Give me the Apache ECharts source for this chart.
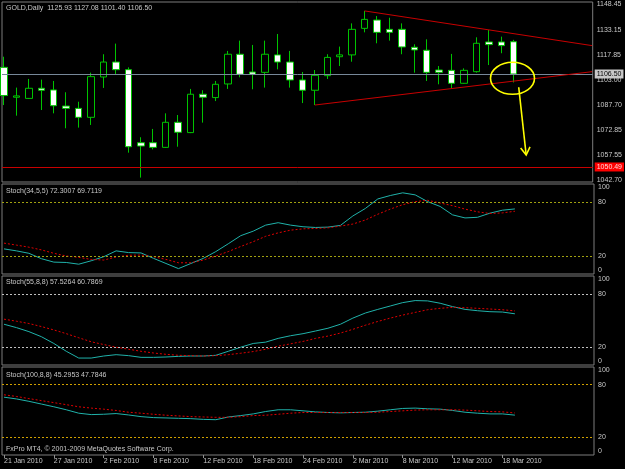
<!DOCTYPE html>
<html>
<head>
<meta charset="utf-8">
<title>GOLD,Daily</title>
<script src="https://cdn.jsdelivr.net/npm/echarts@6/dist/echarts.min.js"></script>
<style>
  html, body { margin: 0; padding: 0; background: #000; }
  #chart { width: 625px; height: 469px; }
</style>
</head>
<body>
<div id="chart"></div>
<script>
// daily bars, 21 Jan .. 19 Mar 2010
const dates = [
  "21 Jan 2010", "22 Jan 2010", "25 Jan 2010", "26 Jan 2010", "27 Jan 2010", "28 Jan 2010", "29 Jan 2010",
  "1 Feb 2010", "2 Feb 2010", "3 Feb 2010", "4 Feb 2010", "5 Feb 2010",
  "8 Feb 2010", "9 Feb 2010", "10 Feb 2010", "11 Feb 2010", "12 Feb 2010",
  "15 Feb 2010", "16 Feb 2010", "17 Feb 2010", "18 Feb 2010", "19 Feb 2010",
  "22 Feb 2010", "23 Feb 2010", "24 Feb 2010", "25 Feb 2010", "26 Feb 2010",
  "1 Mar 2010", "2 Mar 2010", "3 Mar 2010", "4 Mar 2010", "5 Mar 2010",
  "8 Mar 2010", "9 Mar 2010", "10 Mar 2010", "11 Mar 2010", "12 Mar 2010",
  "15 Mar 2010", "16 Mar 2010", "17 Mar 2010", "18 Mar 2010", "19 Mar 2010",
];

const opens = [
  1110.5, 1092.5, 1091.8, 1097.9, 1096.9, 1087.2, 1085.8,
  1080.4, 1104.7, 1113.7, 1109.1, 1065.1,
  1065.1, 1062.3, 1077.4, 1071.2, 1094.3,
  1092.3, 1100.5, 1118.4, 1107.7, 1107.5,
  1118.0, 1113.7, 1102.9, 1096.7, 1105.5,
  1116.9, 1118.0, 1134.0, 1139.0, 1133.4,
  1133.4, 1122.6, 1120.8, 1108.9, 1108.7,
  1100.9, 1107.9, 1125.8, 1125.8, 1125.93,
];
const highs = [
  1116.9, 1098.3, 1103.5, 1103.1, 1102.3, 1095.5, 1089.8,
  1107.3, 1118.4, 1124.8, 1110.5, 1068.4,
  1073.4, 1082.8, 1081.8, 1097.5, 1096.7,
  1102.3, 1120.4, 1126.6, 1124.0, 1126.6,
  1130.6, 1120.4, 1107.7, 1108.9, 1118.4,
  1123.0, 1137.0, 1144.5, 1141.4, 1140.4,
  1137.0, 1124.4, 1127.4, 1111.3, 1118.6,
  1109.9, 1128.6, 1133.0, 1129.0, 1127.08,
];
const lows = [
  1087.8, 1081.4, 1091.5, 1084.8, 1082.8, 1073.8, 1074.2,
  1075.8, 1098.1, 1106.5, 1059.1, 1044.1,
  1061.1, 1062.0, 1062.7, 1070.9, 1077.2,
  1090.2, 1097.5, 1104.5, 1097.3, 1098.3,
  1109.3, 1098.3, 1089.0, 1087.8, 1103.5,
  1111.3, 1113.9, 1131.6, 1125.0, 1126.6,
  1118.4, 1107.3, 1102.3, 1100.3, 1097.9,
  1100.6, 1107.3, 1111.9, 1119.0, 1101.40,
];
const closes = [
  1093.5, 1093.3, 1097.9, 1096.7, 1087.4, 1085.8, 1080.4,
  1104.9, 1113.7, 1109.1, 1062.7, 1063.1,
  1062.3, 1077.4, 1071.4, 1094.3, 1092.5,
  1100.3, 1118.4, 1106.3, 1106.3, 1118.4,
  1113.7, 1102.9, 1096.7, 1105.7, 1116.5,
  1118.0, 1133.4, 1139.4, 1131.6, 1131.6,
  1122.8, 1121.0, 1107.5, 1107.5, 1100.9,
  1108.7, 1125.0, 1124.2, 1123.6, 1106.50,
];

const priceTicks = [1148.45, 1133.15, 1117.85, 1103.00, 1087.70, 1072.85, 1057.55, 1042.70];
const bidPrice = 1106.50;
const hLinePrice = 1050.49;
// trend lines drawn on the chart: [barIndex, price] pairs
const trendUpper = [[29, 1144.5], [47.3, 1123.6]];
const trendLower = [[25, 1087.8], [47.3, 1107.9]];
// hand drawn circle and arrow: [barIndex, price]
const circleCenter = [40.9, 1103.9];
const arrowFrom = [41.4, 1098.5];
const arrowTo = [42.0, 1057.7];

// Stoch(34,5,5)
const stoch1Main = [
  27.9, 25.7, 23.0, 17.0, 13.2, 12.8, 10.9, 14.7, 19.2, 25.7, 23.8, 23.4, 17.4, 11.7,
  6.0, 11.7, 17.4, 24.9, 33.6, 42.6, 47.6, 54.3, 57.0, 54.3, 52.5, 51.7, 52.1, 54.0,
  64.5, 72.8, 83.4, 87.2, 90.2, 87.9, 80.4, 75.1, 65.7, 62.3, 63.0, 67.6, 70.9, 72.3007,
];
const stoch1Signal = [
  34.3, 32.1, 29.8, 26.8, 23.0, 20.0, 18.5, 16.2, 15.5, 18.9, 20.8, 21.1, 19.2, 16.2,
  12.5, 12.5, 15.5, 20.0, 24.9, 30.6, 35.9, 41.9, 45.7, 48.7, 50.2, 50.6, 51.3, 53.2,
  55.5, 60.0, 66.4, 72.1, 77.0, 80.4, 81.9, 78.9, 75.9, 72.1, 69.1, 67.2, 67.9, 69.7119,
];
// Stoch(55,8,8)
const stoch2Main = [
  45.8, 42.0, 37.5, 31.8, 24.2, 15.4, 7.8, 7.8, 10.1, 11.6, 10.5, 8.6, 8.6, 9.0,
  9.7, 10.1, 10.1, 10.9, 15.4, 20.0, 24.2, 25.7, 29.9, 32.9, 35.2, 38.2, 41.3, 45.8,
  52.7, 58.4, 62.5, 66.3, 70.1, 72.4, 72.0, 69.4, 65.6, 62.5, 61.0, 59.9, 59.5, 57.5264,
];
const stoch2Signal = [
  51.5, 49.2, 46.6, 43.2, 39.4, 35.2, 30.6, 26.1, 23.0, 20.0, 17.7, 15.4, 13.5, 12.0,
  10.9, 10.5, 10.1, 10.5, 11.6, 13.2, 15.1, 17.7, 21.1, 23.8, 26.5, 29.9, 32.5, 35.9,
  40.1, 44.7, 48.9, 52.7, 56.1, 59.1, 62.1, 63.7, 64.8, 64.4, 63.7, 62.9, 62.1, 60.7869,
];
// Stoch(100,8,8)
const stoch3Main = [
  65.7, 63.7, 61.0, 57.9, 54.8, 51.4, 47.5, 45.9, 46.3, 47.1, 45.5, 43.6, 42.5, 42.1,
  41.7, 41.3, 40.5, 40.1, 43.2, 44.8, 46.7, 49.4, 51.4, 51.4, 50.2, 49.0, 48.3, 47.9,
  48.3, 48.6, 49.8, 51.4, 52.9, 53.3, 52.5, 52.1, 50.6, 48.6, 47.5, 46.7, 46.7, 45.2953,
];
const stoch3Signal = [
  68.4, 66.5, 64.1, 61.8, 59.5, 57.2, 54.8, 53.3, 52.1, 50.6, 48.6, 47.5, 46.3, 45.2,
  44.4, 43.6, 43.2, 42.8, 42.8, 43.6, 44.8, 45.2, 46.3, 47.5, 48.3, 48.3, 48.3, 48.3,
  48.3, 48.3, 48.6, 49.4, 50.2, 51.0, 51.4, 51.4, 51.4, 51.0, 50.2, 49.4, 49.0, 47.7846,
];
const stochLevels = [80, 20];
const stochTicks = [0, 20, 80, 100];

const dateTicks = dates.map((d, i) => i).filter((i) => i % 4 === 0);

const FONT = "Liberation Sans";
const TEXT = "#c8c8c8";
const FRAME = "#7c7c7c";
const X_MIN = -0.16;
const X_MAX = 47.35;

const chart = echarts.init(document.getElementById("chart"), null, { renderer: "canvas" });

const panels = [
  { top: 2, height: 180 },
  { top: 184, height: 90 },
  { top: 276, height: 89 },
  { top: 367, height: 88 },
];

const grid = panels.map((p) => ({
  left: 2,
  top: p.top,
  width: 592,
  height: p.height,
  show: true,
  borderColor: FRAME,
  borderWidth: 1,
  backgroundColor: "transparent",
}));

// only the bottom panel carries the date labels
const xAxis = panels.map((p, k) => {
  const isBottom = k === panels.length - 1;
  return {
    type: "value",
    gridIndex: k,
    min: X_MIN,
    max: X_MAX,
    show: isBottom,
    axisLine: { show: false },
    splitLine: { show: false },
    axisTick: isBottom
      ? { show: true, customValues: dateTicks, length: 3, lineStyle: { color: "#909090" } }
      : { show: false },
    axisLabel: isBottom
      ? {
          customValues: dateTicks,
          formatter: (v) => dates[Math.round(v)],
          align: "left",
          color: TEXT,
          fontFamily: FONT,
          fontSize: 7,
          margin: 3,
        }
      : { show: false },
  };
});

const stochYAxis = (k) => ({
  type: "value",
  gridIndex: k,
  position: "right",
  min: 0,
  max: 100,
  axisLine: { show: false },
  splitLine: { show: false },
  axisTick: { show: false },
  axisLabel: {
    customValues: stochTicks,
    color: TEXT,
    fontFamily: FONT,
    fontSize: 7,
    margin: 4,
    verticalAlignMinLabel: "bottom",
    verticalAlignMaxLabel: "top",
  },
});

const yAxis = [
  {
    type: "value",
    gridIndex: 0,
    position: "right",
    min: 1041.44,
    max: 1149.87,
    axisLine: { show: false },
    splitLine: { show: false },
    axisTick: { show: false },
    axisLabel: {
      customValues: priceTicks,
      formatter: (v) => v.toFixed(2),
      color: TEXT,
      fontFamily: FONT,
      fontSize: 7,
      margin: 4,
    },
  },
  stochYAxis(1),
  stochYAxis(2),
  stochYAxis(3),
];

const toPoints = (arr) => arr.map((v, i) => [i, v]);

const stochSeries = (k, mainVals, signalVals, levelColor) => [
  {
    name: "main" + k,
    type: "line",
    xAxisIndex: k,
    yAxisIndex: k,
    data: toPoints(mainVals),
    showSymbol: false,
    lineStyle: { color: "#20b2aa", width: 1 },
    z: 3,
    markLine: {
      silent: true,
      symbol: "none",
      label: { show: false },
      lineStyle: { color: levelColor, width: 1, type: [2, 2] },
      data: stochLevels.map((lv) => ({ yAxis: lv })),
    },
  },
  {
    name: "signal" + k,
    type: "line",
    xAxisIndex: k,
    yAxisIndex: k,
    data: toPoints(signalVals),
    showSymbol: false,
    lineStyle: { color: "#e00000", width: 1, type: [2, 2] },
    z: 4,
  },
];

const priceLabel = (bg, fg) => ({
  show: true,
  position: "end",
  distance: 2,
  backgroundColor: bg,
  color: fg,
  fontFamily: FONT,
  fontSize: 7,
  padding: [1, 2, 1, 2],
});

const series = [
  {
    name: "GOLD",
    type: "candlestick",
    xAxisIndex: 0,
    yAxisIndex: 0,
    barWidth: 7,
    data: dates.map((d, i) => [i, opens[i], closes[i], lows[i], highs[i]]),
    itemStyle: {
      color: "#000000",
      color0: "#ffffff",
      borderColor: "#00c400",
      borderColor0: "#00c400",
      borderWidth: 1,
    },
    markLine: {
      silent: true,
      symbol: "none",
      animation: false,
      data: [
        {
          yAxis: bidPrice,
          lineStyle: { color: "#778899", width: 1, type: "solid" },
          label: Object.assign(priceLabel("#c8c8c8", "#000000"), { formatter: bidPrice.toFixed(2) }),
        },
        {
          yAxis: hLinePrice,
          lineStyle: { color: "#c80000", width: 1, type: "solid" },
          label: Object.assign(priceLabel("#ff0000", "#ffd8d8"), { formatter: hLinePrice.toFixed(2) }),
        },
        [
          { coord: trendUpper[0], lineStyle: { color: "#c80000", width: 1, type: "solid" }, label: { show: false } },
          { coord: trendUpper[1] },
        ],
        [
          { coord: trendLower[0], lineStyle: { color: "#c80000", width: 1, type: "solid" }, label: { show: false } },
          { coord: trendLower[1] },
        ],
      ],
    },
  },
  ...stochSeries(1, stoch1Main, stoch1Signal, "#a0a010"),
  ...stochSeries(2, stoch2Main, stoch2Signal, "#c0c0c0"),
  ...stochSeries(3, stoch3Main, stoch3Signal, "#d0a000"),
];

chart.setOption({
  backgroundColor: "#000000",
  animation: false,
  grid: grid,
  xAxis: xAxis,
  yAxis: yAxis,
  series: series,
});

const textEl = (id, x, y, text) => ({
  id: id,
  type: "text",
  x: x,
  y: y,
  z: 100,
  style: {
    text: text,
    fill: TEXT,
    font: "7px '" + FONT + "'",
    textVerticalAlign: "middle",
  },
});

// hand drawn yellow circle and arrow, placed through the price scale
const px = (p) => chart.convertToPixel({ xAxisIndex: 0, yAxisIndex: 0 }, p);
const c = px(circleCenter);
const a0 = px(arrowFrom);
const a1 = px(arrowTo);
const dx = a1[0] - a0[0];
const dy = a1[1] - a0[1];
const len = Math.sqrt(dx * dx + dy * dy);
const ux = dx / len;
const uy = dy / len;
const arm = (ang) => {
  const ca = Math.cos(ang);
  const sa = Math.sin(ang);
  const bx = -ux * ca + uy * sa;
  const by = -ux * sa - uy * ca;
  return [a1[0] + bx * 9, a1[1] + by * 9];
};
const yellow = { stroke: "#ffff00", lineWidth: 1.6, fill: null };

const last = dates.length - 1;

chart.setOption({
  graphic: [
    textEl("tMain", 6, 8, "GOLD,Daily  " + [opens[last], highs[last], lows[last], closes[last]].map((v) => v.toFixed(2)).join(" ")),
    textEl("tS1", 6, 191, "Stoch(34,5,5) " + stoch1Main[last].toFixed(4) + " " + stoch1Signal[last].toFixed(4)),
    textEl("tS2", 6, 282, "Stoch(55,8,8) " + stoch2Main[last].toFixed(4) + " " + stoch2Signal[last].toFixed(4)),
    textEl("tS3", 6, 375, "Stoch(100,8,8) " + stoch3Main[last].toFixed(4) + " " + stoch3Signal[last].toFixed(4)),
    textEl("tCopy", 6, 449, "FxPro MT4, © 2001-2009 MetaQuotes Software Corp."),
    { id: "circle", type: "ellipse", z: 90, shape: { cx: c[0], cy: c[1], rx: 22, ry: 16 }, style: yellow },
    { id: "shaft", type: "polyline", z: 90, shape: { points: [a0, a1] }, style: yellow },
    { id: "head", type: "polyline", z: 90, shape: { points: [arm(0.55), a1, arm(-0.55)] }, style: yellow },
  ],
});
</script>
</body>
</html>
